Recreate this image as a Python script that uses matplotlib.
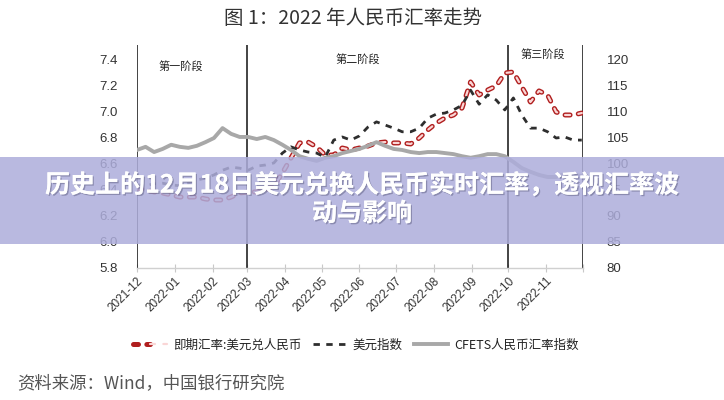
import matplotlib
matplotlib.use("Agg")
import matplotlib.pyplot as plt
from matplotlib.patches import Rectangle
from matplotlib.legend_handler import HandlerTuple
import matplotlib.patheffects as pe
import pandas as pd

plt.rcParams['font.family'] = ['Liberation Sans', 'Noto Sans CJK SC', 'DejaVu Sans']
plt.rcParams['lines.scale_dashes'] = False

# ---------------- data ----------------
start_date = '2021-12-01'
n_weeks = 53
month_ticks = ['2021-12', '2022-01', '2022-02', '2022-03', '2022-04', '2022-05',
               '2022-06', '2022-07', '2022-08', '2022-09', '2022-10', '2022-11', '2022-12']
tick_labels = month_ticks[:-1] + ['']

spot_rate = [6.415, 6.40, 6.385, 6.377, 6.362, 6.346, 6.346, 6.346, 6.331, 6.323,
             6.323, 6.346, 6.377, 6.385, 6.385, 6.40, 6.431, 6.531, 6.646, 6.762,
             6.769, 6.731, 6.669, 6.669, 6.723, 6.708, 6.723, 6.738, 6.762, 6.769,
             6.762, 6.762, 6.754, 6.80, 6.862, 6.915, 6.954, 6.977, 7.031, 7.231,
             7.131, 7.169, 7.20, 7.30, 7.308, 7.192, 7.077, 7.162, 7.131, 7.00,
             6.977, 6.977, 6.992]
usd_index = [96.0, 95.8, 96.2, 96.3, 96.0, 95.8, 96.3, 96.9, 97.3, 97.9,
             98.8, 99.4, 99.2, 98.8, 99.6, 99.8, 100.2, 102.1, 103.3, 102.7,
             102.3, 102.1, 101.3, 104.6, 105.2, 104.6, 105.4, 107.1, 108.1, 107.5,
             106.9, 106.2, 106.2, 106.9, 108.8, 109.6, 109.8, 110.4, 111.3, 114.2,
             111.5, 113.3, 112.3, 110.4, 112.7, 109.4, 106.9, 106.9, 106.2, 105.0,
             105.2, 104.6, 104.6]
cfets_index = [102.7, 103.3, 102.3, 102.9, 103.7, 103.3, 103.1, 103.5, 104.2, 105.0,
               106.9, 105.8, 105.2, 105.2, 104.8, 105.2, 104.6, 103.7, 102.7, 101.5,
               101.0, 100.6, 101.2, 101.5, 102.1, 102.5, 102.9, 103.5, 104.2, 103.5,
               102.9, 102.7, 102.3, 102.1, 102.3, 102.3, 102.1, 101.9, 101.5, 101.2,
               101.5, 101.9, 101.9, 101.5, 100.4, 99.2, 98.5, 97.9, 97.5, 97.5,
               98.1, 97.9, 97.7]
phase_dates = ['2021-12-01', '2022-03-01', '2022-10-01', '2022-12-01']
phase_names = ['第一阶段', '第二阶段', '第三阶段']
phase_label_dates = ['2022-01-06', '2022-05-31', '2022-10-29']
phase_label_vals = [7.355, 7.405, 7.445]

left_ticks = [5.8, 6.0, 6.2, 6.4, 6.6, 6.8, 7.0, 7.2, 7.4]
right_ticks = [80, 85, 90, 95, 100, 105, 110, 115, 120]

title = '图 1：2022 年人民币汇率走势'
series_names = ['即期汇率:美元兑人民币', '美元指数', 'CFETS人民币汇率指数']
source = '资料来源：Wind，中国银行研究院'
banner_lines = ['历史上的12月18日美元兑换人民币实时汇率，透视汇率波', '动与影响']

dates = pd.date_range(start_date, periods=n_weeks, freq='7D')
tick_dates = pd.to_datetime([m + '-01' for m in month_ticks])

# ---------------- figure ----------------
fig = plt.figure(figsize=(7.24, 4.00), dpi=100)
fig.patch.set_facecolor('white')
ax = fig.add_axes([137 / 724, 1 - 268 / 400, (583 - 137) / 724, (268 - 45) / 400])
ax2 = ax.twinx()

y_lo, y_hi = 5.8, 5.8 + 223 * 0.2 / 26
r_lo, r_hi = 80, 80 + 223 * 5 / 26
ax.set_ylim(y_lo, y_hi)
ax2.set_ylim(r_lo, r_hi)
ax.set_xlim(tick_dates[0], tick_dates[-1])

# lines
red_dark = '#b01e1e'
red_light = '#fad6d6'
red_dash = (3.6, 6.0)
l_out, = ax.plot(dates, spot_rate, color=red_dark, lw=3.6, dashes=red_dash,
                 dash_capstyle='round', zorder=5)
l_in, = ax.plot(dates, spot_rate, color=red_light, lw=1.6, dashes=red_dash,
                dash_capstyle='round', zorder=6)
l_usd, = ax2.plot(dates, usd_index, color='#2e2e2e', lw=2.0, dashes=(4.6, 4.6), zorder=4)
l_cf, = ax2.plot(dates, cfets_index, color='#a8a8a8', lw=2.8, zorder=3)

# phase lines
for d in phase_dates:
    ax.axvline(pd.Timestamp(d), color='#111111', lw=1.1, zorder=2)
for name, d, v in zip(phase_names, phase_label_dates, phase_label_vals):
    ax.text(pd.Timestamp(d), v, name, ha='center', va='center', fontsize=8,
            color='#222222', family=['Noto Sans CJK SC'])

# spines
for a in (ax, ax2):
    for s in ('top', 'left', 'right', 'bottom'):
        a.spines[s].set_visible(False)
ax.spines['bottom'].set_visible(True)
ax.spines['bottom'].set_color('#d0d0d0')
ax.spines['bottom'].set_linewidth(1.0)

ax.set_yticks(left_ticks)
ax.set_yticklabels([f'{t:.1f}' for t in left_ticks])
ax2.set_yticks(right_ticks)
ax2.set_yticklabels([str(t) for t in right_ticks])
ax.tick_params(axis='y', length=0, pad=14, labelsize=9.5, labelcolor='#333333')
ax2.tick_params(axis='y', length=0, pad=17, labelsize=9.5, labelcolor='#333333')

ax.set_xticks(tick_dates)
ax.set_xticklabels(tick_labels)
ax.tick_params(axis='x', direction='inout', length=6, color='#c8c8c8', width=0.8,
               labelsize=8.5, labelcolor='#333333', pad=2)
for lab in ax.get_xticklabels():
    lab.set_rotation(45)
    lab.set_ha('right')
    lab.set_va('top')
    lab.set_rotation_mode('anchor')

ax.set_facecolor('none')
ax2.set_facecolor('none')

# title
fig.text(353 / 724, 1 - 18 / 400, title, ha='center', va='center', fontsize=14,
         color='#333333', family=['Noto Sans CJK SC'])

# legend
leg = fig.legend([(l_out, l_in), l_usd, l_cf], series_names,
                 handler_map={tuple: HandlerTuple(ndivide=None, pad=0)},
                 loc='center', bbox_to_anchor=(356 / 724, 1 - 345 / 400), ncol=3,
                 frameon=False, handlelength=2.7, handletextpad=0.5,
                 columnspacing=0.9, prop={'family': ['Noto Sans CJK SC'], 'size': 9})
for t in leg.get_texts():
    t.set_color('#222222')

# source
fig.text(17 / 724, 1 - 383 / 400, source, ha='left', va='center', fontsize=12.5,
         color='#555555', family=['Noto Sans CJK SC'])

# banner overlay
fig.patches.append(Rectangle((0, 1 - 244 / 400), 1, (244 - 157) / 400,
                             transform=fig.transFigure,
                             facecolor=(173 / 255, 173 / 255, 219 / 255),
                             alpha=0.85, edgecolor='none', zorder=20))
shadow = [pe.withSimplePatchShadow(offset=(1, -1), shadow_rgbFace='#555577', alpha=0.45),
          pe.Normal()]
fig.text(0.5, 1 - 185 / 400, banner_lines[0], ha='center', va='center', fontsize=18,
         fontweight='bold', color='white', family=['Noto Sans CJK SC'], zorder=21,
         path_effects=shadow)
fig.text(0.5, 1 - 214 / 400, banner_lines[1], ha='center', va='center', fontsize=18,
         fontweight='bold', color='white', family=['Noto Sans CJK SC'], zorder=21,
         path_effects=shadow)

fig.savefig('out.png', dpi=100, facecolor='white')
